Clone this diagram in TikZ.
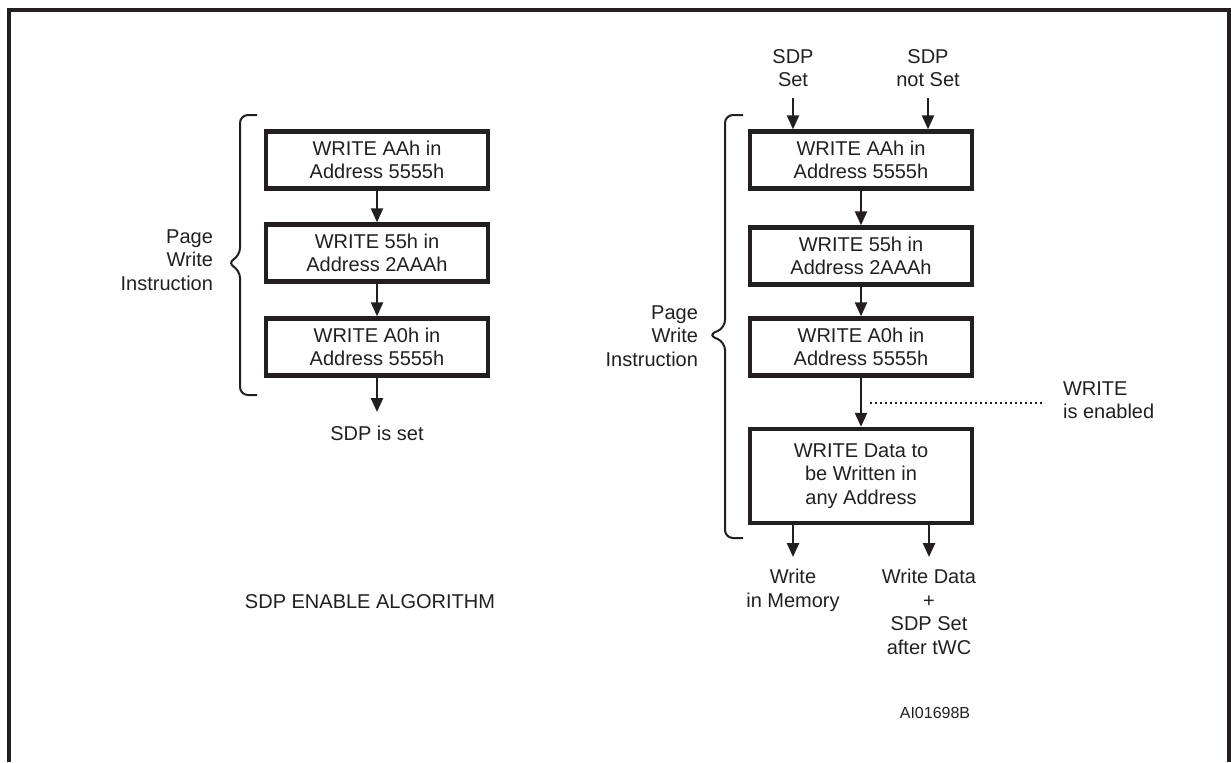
\documentclass[tikz,border=0pt]{standalone}
\usepackage{fontspec}
\setmainfont{Liberation Sans}
\usetikzlibrary{arrows.meta}
\definecolor{ink}{RGB}{35,31,32}

\begin{document}
\begin{tikzpicture}[x=0.5pt, y=-0.5pt,
    every node/.style={font=\fontsize{10}{11.75}\selectfont, text=ink, align=center},
    box/.style={draw=ink, line width=2.2pt, minimum width=111pt, minimum height=28.5pt, inner sep=0pt},
    arr/.style={draw=ink, line width=1.2pt, -{Triangle[length=7pt,width=6pt]}},
    brace/.style={draw=ink, line width=1pt, rounded corners=4pt}]
    \useasboundingbox (0,0) rectangle (1231,762);
    \draw[ink, line width=2pt] (9,762) -- (9,10) -- (1229,10) -- (1229,762);

    % left flow
    \node[box] (a1) at (377,160) {WRITE AAh in\\Address 5555h};
    \node[box] (a2) at (377,253) {WRITE 55h in\\Address 2AAAh};
    \node[box] (a3) at (377,347) {WRITE A0h in\\Address 5555h};
    \coordinate (aout) at (377,412);
    \node (sdpis) at (377,433) {SDP is set};
    \draw[arr] (a1)--(a2);
    \draw[arr] (a2)--(a3);
    \draw[arr] (a3)--(aout);
    \draw[brace] (257,115) -- (240,115) -- (240,256) -- (227,263) -- (240,270) -- (240,395) -- (257,395);
    \node[anchor=east, align=right] (pwa) at (220,260) {Page\\Write\\Instruction};
    \node (alg) at (370,602) {SDP ENABLE ALGORITHM};

    % right flow
    \node (set) at (793,68) {SDP\\Set};
    \node (notset) at (928,68) {SDP\\not Set};
    \node[box] (r1) at (861,160) {WRITE AAh in\\Address 5555h};
    \node[box] (r2) at (861,256) {WRITE 55h in\\Address 2AAAh};
    \node[box] (r3) at (861,347) {WRITE A0h in\\Address 5555h};
    \node[box, minimum height=47pt] (r4) at (861,476) {WRITE Data to\\be Written in\\any Address};
    \draw[arr, shorten <=2pt] (set) -- (set |- r1.north);
    \draw[arr, shorten <=2pt] (notset) -- (notset |- r1.north);
    \draw[arr] (r1)--(r2);
    \draw[arr] (r2)--(r3);
    \draw[arr] (r3)--(r4);
    \draw[brace] (743,115) -- (725,115) -- (725,328) -- (708,335) -- (725,342) -- (725,538) -- (743,538);
    \node[anchor=east, align=right] (pwb) at (705,336) {Page\\Write\\Instruction};

    \coordinate (d1) at (870,403);
    \coordinate (d2) at (1045,403);
    \draw[ink, line width=0.8pt, dash pattern=on 0.8pt off 1.7pt] (d1) -- (d2);
    \node[anchor=west, align=left] (wen) at (1056,400) {WRITE\\is enabled};

    \coordinate (m1) at (793,557);
    \coordinate (m2) at (929,557);
    \draw[arr] (r4.south -| m1) -- (m1);
    \draw[arr] (r4.south -| m2) -- (m2);
    \node[anchor=north] (mem) at (793,562) {Write\\in Memory};
    \node[anchor=north] (wd) at (929,562) {Write Data\\+\\SDP Set\\after tWC};

    \node[font=\fontsize{8}{10}\selectfont] (fig) at (935,713) {AI01698B};
\end{tikzpicture}
\end{document}
